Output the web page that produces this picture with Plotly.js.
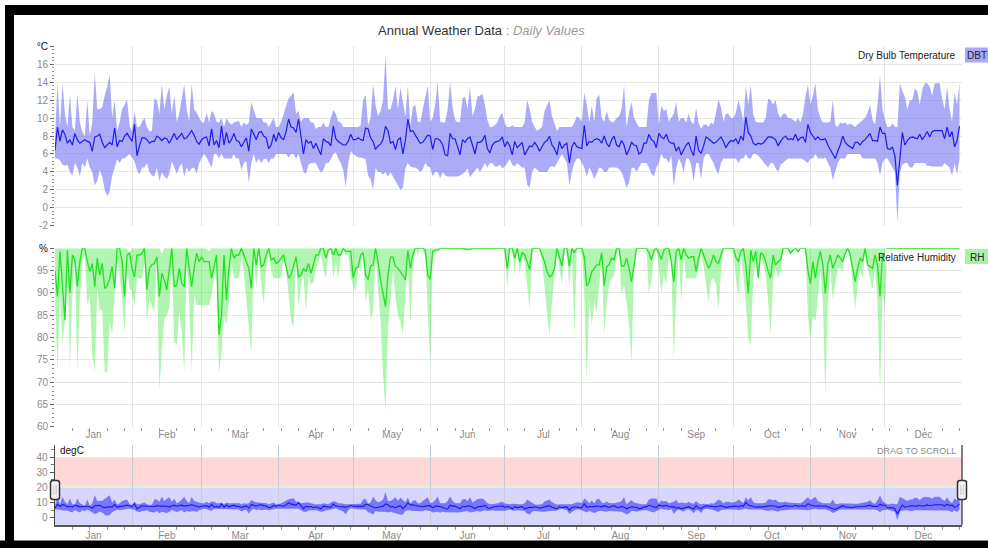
<!DOCTYPE html>
<html>
<head>
<meta charset="utf-8">
<script src="https://cdn.plot.ly/plotly-3.0.1.min.js"></script>
<style>
  html, body { margin: 0; padding: 0; background: #fff; }
  #chart { width: 988px; height: 548px; }
</style>
</head>
<body>
<div id="chart"></div>
<script>
// Daily dry bulb temperature (°C): minimum, mean, maximum
const dbtMean = [
  6.4, 9.0, 7.4, 8.7, 8.2, 7.2, 7.6, 7.0, 8.3, 7.6,
  7.2, 7.4, 7.6, 7.4, 7.3, 6.3, 7.9, 8.0, 8.2, 7.3,
  6.7, 7.0, 7.3, 7.0, 8.9, 6.8, 7.5, 7.4, 8.0, 8.3,
  7.8, 7.4, 9.3, 5.8, 6.9, 7.8, 7.8, 7.6, 7.2, 7.4,
  7.4, 8.0, 7.8, 7.5, 7.8, 7.7, 7.2, 7.8, 8.3, 7.6,
  7.9, 8.3, 7.7, 7.8, 8.2, 8.6, 8.1, 7.4, 7.1, 7.6,
  7.8, 7.9, 6.9, 8.8, 7.0, 7.5, 6.7, 9.1, 7.0, 8.4,
  7.2, 7.6, 8.3, 7.5, 7.4, 6.8, 7.3, 7.8, 6.3, 8.8,
  8.2, 7.6, 8.4, 8.5, 8.0, 7.8, 6.6, 7.0, 8.2, 7.4,
  8.4, 7.8, 7.6, 8.5, 9.9, 9.0, 8.9, 8.4, 9.9, 8.0,
  6.0, 7.6, 7.2, 7.4, 6.6, 7.2, 6.6, 5.9, 7.7, 7.4,
  7.3, 6.9, 9.1, 7.7, 7.4, 7.2, 7.0, 7.0, 7.4, 8.2,
  7.6, 7.6, 7.8, 7.6, 7.5, 8.9, 8.8, 7.8, 7.4, 6.5,
  6.9, 7.1, 7.6, 9.1, 8.6, 7.2, 7.4, 6.5, 7.6, 7.8,
  6.0, 7.5, 9.9, 8.5, 8.6, 8.1, 7.7, 7.2, 7.3, 7.7,
  8.1, 8.0, 6.5, 7.7, 7.7, 7.5, 7.0, 5.9, 5.8, 8.3,
  7.7, 7.7, 6.9, 5.9, 7.6, 7.3, 7.7, 7.9, 7.0, 6.0,
  7.3, 7.3, 7.5, 8.1, 6.6, 6.1, 7.0, 7.3, 7.4, 7.5,
  7.9, 6.8, 7.4, 6.9, 5.9, 7.4, 6.7, 7.0, 7.3, 5.9,
  6.4, 6.9, 6.8, 7.3, 6.9, 6.3, 6.8, 7.3, 7.5, 8.0,
  7.0, 6.6, 5.9, 7.4, 6.6, 7.0, 7.2, 5.0, 6.8, 7.3,
  6.8, 6.7, 6.6, 9.2, 6.9, 7.4, 7.3, 7.6, 7.7, 7.6,
  7.2, 8.0, 7.2, 6.8, 7.6, 8.0, 7.0, 6.8, 7.5, 7.0,
  5.9, 6.5, 7.3, 7.0, 6.9, 6.0, 6.2, 7.2, 7.2, 8.2,
  7.6, 7.4, 6.7, 8.3, 7.9, 7.7, 8.2, 7.4, 7.2, 7.2,
  6.3, 6.8, 5.9, 6.5, 7.0, 7.3, 6.4, 5.8, 8.0, 6.4,
  6.1, 6.9, 7.9, 7.7, 7.5, 7.2, 7.3, 7.6, 7.9, 7.4,
  6.7, 7.2, 7.5, 7.4, 7.7, 7.1, 8.0, 7.5, 10.1, 8.4,
  8.0, 7.2, 7.0, 7.2, 7.1, 7.2, 7.5, 7.9, 7.9, 7.8,
  7.6, 6.9, 7.4, 7.8, 8.0, 7.6, 7.7, 7.6, 8.2, 7.5,
  7.8, 7.9, 7.3, 9.3, 8.4, 8.0, 7.6, 7.9, 7.6, 7.6,
  7.7, 7.0, 6.5, 6.0, 5.5, 6.3, 7.0, 8.0, 7.3, 7.0,
  6.8, 6.6, 7.3, 7.3, 7.0, 7.4, 7.6, 7.9, 8.3, 7.5,
  7.5, 7.4, 9.0, 8.3, 8.3, 6.6, 6.5, 6.8, 5.8, 2.5,
  5.8, 8.4, 7.0, 7.5, 7.8, 7.9, 7.8, 7.7, 8.2, 7.6,
  8.0, 8.5, 7.9, 8.5, 8.6, 8.6, 8.6, 8.6, 7.7, 9.0,
  7.9, 8.5, 6.8, 7.5, 9.1
];
const dbtMax = [
  7.8, 13.9, 9.0, 13.9, 10.5, 9.0, 12.6, 9.0, 8.6, 12.7,
  9.5, 8.5, 8.0, 12.0, 8.0, 9.5, 15.0, 11.0, 11.0, 11.2,
  12.5, 13.5, 14.9, 10.0, 12.0, 8.6, 9.5, 11.0, 11.5, 12.1,
  9.2, 8.5, 10.8, 9.0, 9.0, 9.6, 10.0, 9.0, 8.5, 8.6,
  12.2, 12.0, 10.5, 13.8, 11.0, 12.5, 13.5, 10.5, 12.5, 9.6,
  10.5, 12.0, 13.8, 11.0, 9.6, 13.8, 11.0, 10.6, 10.0, 9.5,
  9.5, 10.6, 9.5, 10.8, 10.5, 9.6, 9.5, 10.0, 9.0, 10.0,
  9.5, 9.3, 9.5, 9.6, 9.7, 9.0, 9.5, 9.2, 9.5, 11.8,
  11.0, 10.0, 10.0, 10.0, 9.5, 9.5, 9.0, 9.5, 10.0, 9.0,
  9.0, 9.6, 10.5, 11.5, 12.2, 12.5, 12.9, 10.5, 10.8, 9.6,
  10.0, 10.0, 10.0, 9.5, 9.5, 8.8, 9.0, 9.0, 9.5, 9.0,
  9.0, 10.0, 10.9, 10.5, 9.6, 9.5, 9.0, 9.0, 9.0, 9.0,
  9.0, 9.0, 9.0, 9.2, 12.0, 12.6, 9.2, 10.0, 13.8, 11.5,
  10.2, 10.8, 12.0, 17.0, 11.0, 11.0, 12.0, 13.6, 11.0, 13.4,
  11.8, 10.2, 13.6, 9.2, 11.2, 11.5, 9.6, 9.5, 11.0, 12.2,
  13.6, 9.6, 10.0, 11.5, 14.0, 9.6, 9.5, 9.5, 11.0, 14.0,
  11.2, 9.8, 9.5, 9.6, 12.2, 12.4, 11.0, 13.5, 10.2, 11.0,
  12.4, 12.5, 12.7, 11.5, 9.8, 9.0, 9.0, 9.2, 9.5, 10.2,
  10.6, 9.4, 9.0, 9.0, 9.2, 9.0, 9.0, 9.0, 9.0, 9.5,
  12.0, 11.0, 9.6, 9.0, 8.6, 8.8, 9.0, 10.8, 11.5, 12.0,
  10.2, 9.5, 8.6, 9.0, 9.0, 9.0, 9.0, 9.0, 9.0, 9.5,
  10.2, 10.0, 9.6, 12.8, 11.5, 9.5, 11.4, 9.6, 12.2, 12.6,
  10.0, 9.6, 10.8, 9.8, 9.5, 9.6, 10.0, 10.2, 11.0, 13.7,
  9.0, 10.6, 11.8, 10.0, 9.5, 9.0, 9.0, 9.0, 9.0, 12.0,
  12.8, 12.8, 12.8, 9.2, 11.4, 10.8, 11.0, 9.6, 10.0, 10.5,
  11.8, 9.6, 10.0, 10.0, 9.5, 10.5, 9.6, 9.3, 11.1, 9.5,
  8.8, 9.3, 9.3, 9.0, 9.5, 9.3, 10.6, 12.1, 11.2, 9.6,
  10.5, 10.5, 10.0, 10.0, 10.6, 12.0, 11.0, 9.6, 13.6, 11.5,
  13.7, 10.4, 9.6, 9.5, 9.5, 9.5, 10.0, 12.2, 12.0, 11.5,
  12.0, 10.5, 10.0, 10.5, 10.5, 10.0, 10.0, 9.8, 9.6, 10.0,
  9.5, 10.5, 12.4, 13.7, 11.5, 12.5, 13.9, 11.0, 10.0, 9.5,
  9.5, 9.5, 9.6, 12.0, 9.2, 9.0, 9.5, 9.4, 9.5, 9.2,
  9.4, 9.2, 9.0, 9.3, 9.5, 9.8, 10.0, 10.6, 11.5, 9.8,
  9.3, 11.5, 14.8, 11.0, 9.8, 9.0, 9.0, 9.4, 9.0, 9.0,
  13.9, 13.0, 12.4, 11.0, 12.0, 12.0, 13.3, 13.0, 11.5, 13.2,
  13.9, 13.9, 13.5, 12.5, 13.9, 13.9, 13.9, 12.2, 11.0, 13.5,
  11.0, 9.6, 12.8, 11.5, 13.9
];
const dbtMin = [
  5.5, 5.5, 5.3, 4.8, 4.7, 4.8, 4.0, 3.6, 5.0, 4.5,
  3.5, 5.0, 4.5, 5.5, 4.5, 4.0, 2.5, 3.0, 4.2, 3.5,
  2.0, 1.3, 1.8, 3.6, 4.5, 5.4, 5.0, 5.5, 5.5, 5.8,
  6.0, 5.6, 5.2, 4.2, 3.7, 4.5, 4.5, 5.0, 4.0, 3.6,
  3.5, 4.5, 3.0, 4.0, 3.5, 3.2, 3.8, 5.2, 4.5, 3.8,
  4.5, 5.0, 3.5, 4.5, 4.0, 4.4, 4.5, 3.8, 5.0, 5.5,
  6.0, 5.6, 5.0, 4.5, 6.0, 6.0, 5.5, 6.0, 5.5, 5.5,
  5.5, 5.5, 6.0, 5.5, 5.5, 4.2, 5.0, 5.2, 2.8, 5.0,
  6.0, 5.0, 5.5, 5.0, 5.4, 5.5, 5.0, 5.5, 5.5, 6.0,
  6.0, 6.0, 6.0, 6.0, 5.6, 6.0, 6.0, 5.5, 6.0, 5.0,
  4.0, 3.8, 4.8, 5.0, 5.0, 5.0, 4.4, 3.9, 4.2, 5.0,
  5.0, 5.4, 6.0, 6.2, 5.5, 5.0, 4.2, 2.3, 5.0, 6.3,
  6.0, 5.8, 5.6, 5.6, 5.5, 5.4, 3.6, 3.2, 2.0, 4.4,
  4.0, 4.0, 3.7, 4.0, 3.5, 4.0, 3.5, 3.0, 2.6, 2.0,
  2.2, 4.4, 5.0, 4.6, 4.5, 4.5, 4.3, 4.0, 4.3, 5.0,
  4.6, 4.5, 3.5, 4.0, 4.0, 3.3, 4.0, 3.6, 3.5, 3.5,
  3.5, 3.5, 3.5, 3.6, 3.8, 4.0, 4.4, 3.4, 3.8, 4.2,
  4.5, 4.0, 4.4, 5.0, 4.5, 5.0, 5.0, 4.6, 4.6, 4.8,
  4.4, 4.6, 5.0, 5.4, 4.8, 4.6, 5.0, 4.8, 4.5, 4.5,
  2.6, 2.2, 4.0, 4.5, 4.3, 4.0, 4.0, 4.0, 4.0, 4.5,
  4.7, 4.5, 5.0, 5.5, 6.0, 5.5, 5.0, 2.5, 4.0, 5.0,
  5.5, 5.5, 5.0, 4.5, 3.5, 4.5, 4.0, 3.2, 3.8, 4.5,
  4.4, 4.0, 4.0, 4.5, 4.5, 4.5, 4.5, 4.3, 4.0, 3.2,
  2.2, 2.8, 4.4, 4.5, 4.0, 4.5, 5.0, 5.0, 5.0, 4.5,
  3.8, 3.5, 4.5, 5.0, 6.0, 5.5, 5.5, 5.0, 5.8, 2.4,
  4.4, 5.5, 5.0, 4.0, 5.5, 5.5, 4.8, 3.0, 5.0, 5.0,
  3.2, 5.5, 6.0, 6.0, 5.5, 5.0, 4.2, 3.8, 5.0, 5.5,
  5.5, 5.5, 5.5, 5.5, 5.5, 5.0, 5.5, 5.5, 6.0, 5.5,
  5.5, 6.0, 6.0, 5.8, 5.5, 5.2, 4.8, 4.5, 5.0, 5.0,
  4.4, 4.0, 4.8, 5.0, 5.2, 5.5, 5.5, 5.5, 5.5, 5.5,
  5.5, 5.4, 5.2, 5.0, 5.5, 5.5, 6.0, 5.5, 5.5, 5.5,
  5.6, 5.0, 4.5, 3.1, 4.0, 5.0, 5.5, 5.5, 5.5, 6.0,
  6.0, 6.0, 6.0, 6.0, 6.0, 5.5, 5.5, 5.5, 5.5, 5.5,
  5.5, 5.0, 3.6, 5.0, 5.5, 5.5, 5.0, 4.5, 4.0, -1.6,
  4.0, 4.8, 5.0, 5.0, 4.5, 4.5, 5.0, 5.0, 5.0, 5.0,
  5.0, 4.7, 4.7, 4.6, 4.6, 4.6, 4.6, 4.6, 5.0, 4.8,
  4.5, 3.6, 5.0, 3.7, 5.5
];

// Daily relative humidity (%): minimum, mean, maximum
const rhMean = [
  95, 89.2, 99.3, 92, 83.9, 99.6, 90.0, 98.5, 97.4, 91.4,
  97.0, 100, 100, 97.0, 94.8, 96.6, 91.4, 97.8, 94.0, 96.6,
  91.0, 91.6, 93.2, 95.9, 91.0, 100, 100, 97.0, 89.2, 98.5,
  98.9, 95.5, 93.6, 98.5, 98.5, 98.9, 100, 90.7, 95.5, 96.3,
  96.6, 98.1, 89.2, 94.4, 92.9, 90.7, 94.8, 100, 91.4, 91.8,
  95.5, 92.1, 91.4, 100, 95.5, 91.4, 95.5, 98.9, 97.0, 98.1,
  97.0, 97.0, 97.0, 93.3, 96.3, 98.5, 80.6, 85.0, 98.5, 88.4,
  95.5, 100, 97.8, 98.5, 98.5, 100, 98.5, 97.0, 95.5, 91.0,
  100, 96.3, 100, 95.9, 96.3, 98.5, 100, 97.4, 97.8, 96.6,
  97.0, 97.8, 98.5, 95.9, 93.3, 94.0, 96.3, 98.1, 93.6, 94.0,
  95.5, 94.8, 96.6, 94.4, 96.3, 98.5, 98.5, 100, 100, 97.8,
  99.6, 100, 98.5, 100, 98.5, 98.5, 100, 99.3, 99.3, 99.3,
  93.3, 95.5, 95.9, 98.5, 99.0, 94.0, 93.0, 96.0, 96.3, 100,
  97.0, 92.8, 90.0, 86.9, 94.0, 98.0, 98.0, 96.0, 95.5, 94.8,
  94.0, 92.9, 99.5, 95.5, 98.5, 100, 100, 100, 100, 99.6,
  94.0, 93.0, 99.3, 99.6, 99.6, 100, 100, 100, 100, 100,
  100, 100, 100, 100, 100, 99.8, 99.8, 99.8, 100, 100,
  100, 100, 100, 100, 100, 100, 100, 100, 100, 100,
  100, 100, 95.5, 100, 100, 97.8, 100, 97.0, 99.0, 98.5,
  97.0, 95.2, 100, 100, 100, 100, 98.5, 97.0, 94.8, 93.6,
  94.0, 95.5, 100, 97.8, 96.0, 100, 100, 96.0, 100, 99.0,
  100, 100, 100, 98.0, 91.5, 92.5, 94.8, 95.5, 96.3, 96.3,
  99.0, 91.6, 95.9, 96.3, 97.8, 97.4, 100, 100, 96.0, 96.0,
  97.8, 95.5, 92.5, 96.0, 100, 100, 100, 100, 100, 99.0,
  97.4, 99.5, 100, 99.0, 97.5, 99.6, 100, 100, 97.0, 92.5,
  99.3, 100, 97.4, 100, 98.5, 97.8, 98.1, 98.1, 94.8, 97.8,
  100, 98.5, 97.0, 95.5, 96.6, 98.5, 97.0, 96.6, 98.5, 100,
  100, 100, 100, 100, 98.0, 97.0, 99.3, 100, 96.3, 89.9,
  99.6, 97.0, 99.3, 93.3, 99.0, 98.5, 97.0, 94.8, 93.3, 98.5,
  96.3, 97.0, 97.4, 100, 100, 100, 98.9, 99.6, 100, 99.3,
  100, 100, 100, 95.0, 92.0, 97.0, 93.3, 97.0, 99.3, 96.3,
  89.9, 96.3, 98.5, 95.5, 97.0, 98.5, 97.8, 97.0, 98.9, 100,
  98.5, 95.5, 92.5, 95.5, 97.8, 97.0, 100, 96.3, 95.9, 95.5,
  98.5, 96.3, 89.2, 98.5, 99.0, 100, 100, 100, 100, 100,
  100, 100, 100, 100, 100, 100, 100, 100, 100, 100,
  100, 100, 100, 100, 100, 100, 100, 100, 100, 100,
  100, 100, 100, 100, 100
];
const rhMin = [
  90.0, 72.3, 89.5, 79.0, 83.9, 98.5, 73.0, 90.3, 97.0, 72.3,
  88.5, 97.0, 98.5, 87.3, 89.5, 76.0, 72.3, 91.0, 86.2, 86.2,
  72.3, 72.3, 83.6, 80.6, 89.5, 98.5, 94.0, 88.8, 80.6, 95.5,
  91.0, 90.3, 86.9, 93.3, 93.3, 93.3, 97.0, 83.6, 88.5, 86.9,
  85.8, 97.0, 67.9, 77.6, 84.3, 85.0, 86.5, 97.0, 79.0, 78.3,
  85.8, 81.3, 72.3, 97.0, 88.5, 72.3, 89.5, 87.3, 87.3, 87.3,
  87.3, 87.3, 87.3, 89.5, 93.3, 97.0, 71.6, 76.8, 85.0, 82.8,
  88.5, 97.0, 93.3, 93.3, 93.3, 97.8, 94.8, 88.5, 82.8, 76.4,
  98.5, 91.0, 98.5, 91.8, 87.3, 95.5, 98.5, 94.8, 93.3, 93.3,
  93.3, 93.3, 97.8, 95.5, 89.5, 84.0, 82.1, 97.8, 87.0, 91.8,
  94.0, 85.8, 94.0, 91.8, 92.5, 95.5, 97.0, 98.5, 95.5, 93.3,
  98.5, 100, 93.3, 97.0, 93.3, 98.5, 100, 98.5, 98.5, 93.3,
  91.8, 90.3, 95.5, 95.5, 98.5, 88.0, 91.0, 84.0, 86.0, 98.5,
  91.0, 84.0, 72.0, 63.4, 82.0, 88.0, 95.0, 89.0, 85.0, 83.6,
  80.6, 90.0, 97.0, 82.8, 95.5, 100, 98.5, 100, 99.6, 98.5,
  85.0, 73.8, 98.5, 99.3, 99.6, 100, 100, 100, 100, 100,
  100, 100, 100, 100, 100, 99.5, 99.5, 99.5, 100, 100,
  100, 100, 100, 100, 100, 100, 100, 100, 100, 100,
  100, 100, 91.0, 100, 100, 94.0, 100, 94.0, 98.0, 97.0,
  91.8, 86.2, 98.5, 100, 100, 100, 97.0, 91.0, 85.0, 80.2,
  88.0, 93.3, 100, 95.5, 91.8, 100, 100, 91.0, 100, 80.6,
  100, 100, 100, 90.0, 70.1, 88.5, 82.8, 88.0, 85.8, 91.8,
  98.0, 80.6, 88.0, 91.8, 93.3, 94.0, 98.5, 100, 89.5, 91.8,
  88.0, 83.0, 74.2, 95.0, 100, 100, 100, 100, 100, 89.5,
  93.0, 98.5, 100, 95.5, 90.0, 94.0, 92.0, 98.5, 97.0, 75.0,
  89.5, 98.5, 88.0, 99.0, 93.3, 93.3, 93.3, 93.3, 93.3, 95.5,
  99.0, 96.0, 91.5, 88.0, 92.9, 93.3, 92.0, 86.2, 94.5, 100,
  100, 100, 100, 100, 93.3, 88.8, 98.5, 94.0, 88.0, 79.8,
  78.3, 93.3, 97.8, 93.3, 99.0, 96.3, 94.0, 88.0, 80.6, 93.3,
  95.5, 93.3, 95.0, 100, 100, 100, 98.5, 100, 100, 98.9,
  100, 100, 100, 85.0, 79.8, 85.0, 83.6, 89.0, 95.0, 88.0,
  67.1, 88.0, 95.5, 88.5, 92.0, 95.5, 95.5, 94.8, 98.5, 100,
  97.8, 92.0, 86.2, 91.8, 95.5, 93.3, 99.0, 95.5, 93.3, 91.0,
  95.5, 88.0, 68.2, 90.0, 86.5, 100, 100, 100, 100, 100,
  100, 100, 100, 100, 100, 100, 100, 100, 100, 100,
  100, 100, 100, 100, 100, 100, 100, 100, 100, 100,
  100, 100, 100, 100, 100
];
const rhMax = [
  100, 100, 100, 100, 100, 100, 100, 100, 100, 100,
  100, 100, 100, 100, 100, 100, 100, 100, 100, 100,
  100, 100, 100, 100, 100, 100, 100, 100, 100, 100,
  99.0, 100, 100, 100, 100, 100, 100, 100, 100, 100,
  100, 100, 100, 98.8, 100, 100, 100, 100, 100, 100,
  100, 100, 100, 100, 100, 100, 100, 100, 100, 100,
  100, 100, 99.3, 100, 100, 100, 100, 100, 100, 100,
  100, 100, 100, 100, 100, 100, 100, 100, 100, 100,
  100, 100, 100, 100, 100, 100, 100, 100, 100, 100,
  100, 100, 100, 100, 100, 100, 100, 100, 100, 100,
  100, 100, 100, 100, 100, 100, 100, 100, 100, 100,
  100, 100, 100, 100, 100, 100, 100, 100, 100, 100,
  100, 100, 100, 100, 100, 100, 100, 100, 100, 100,
  100, 100, 100, 100, 100, 100, 100, 100, 100, 100,
  100, 100, 100, 100, 100, 100, 100, 100, 100, 100,
  100, 100, 100, 100, 100, 100, 100, 100, 100, 100,
  100, 100, 100, 100, 100, 100, 100, 100, 100, 100,
  100, 100, 100, 100, 100, 100, 100, 100, 100, 100,
  100, 100, 100, 100, 100, 100, 100, 100, 100, 100,
  100, 100, 100, 100, 100, 100, 100, 100, 100, 100,
  100, 100, 100, 100, 100, 100, 100, 100, 100, 100,
  100, 100, 100, 100, 100, 100, 100, 100, 100, 100,
  100, 100, 100, 100, 100, 100, 100, 100, 100, 100,
  100, 100, 100, 100, 100, 100, 100, 100, 100, 100,
  100, 100, 100, 100, 100, 100, 100, 100, 100, 100,
  100, 100, 100, 100, 100, 100, 100, 100, 100, 100,
  100, 100, 100, 100, 100, 100, 100, 100, 100, 100,
  100, 100, 100, 100, 100, 100, 100, 100, 100, 100,
  100, 100, 100, 100, 100, 100, 100, 100, 100, 100,
  100, 100, 100, 100, 100, 100, 100, 100, 100, 100,
  100, 100, 100, 100, 100, 100, 100, 100, 100, 100,
  100, 100, 100, 100, 100, 100, 100, 100, 100, 100,
  100, 100, 100, 100, 100, 100, 100, 100, 100, 100,
  100, 100, 100, 100, 100, 100, 100, 100, 100, 100,
  100, 100, 100, 100, 100, 100, 100, 100, 100, 100,
  100, 100, 100, 100, 100, 100, 100, 100, 100, 100,
  100, 100, 100, 100, 100
];

// Axis tick values and labels
const tempTicks = [-2, 0, 2, 4, 6, 8, 10, 12, 14, 16, 18];
const tempTickText = ['-2', '0', '2', '4', '6', '8', '10', '12', '14', '16', '<span style="color:#111">°C</span>'];
const rhTicks = [60, 65, 70, 75, 80, 85, 90, 95, 100];
const rhTickText = ['60', '65', '70', '75', '80', '85', '90', '95', '<span style="color:#111">%</span>'];
const navTicks = [0, 10, 20, 30, 40];

// One date per day of the year
const days = [];
const t0 = Date.UTC(2019, 0, 1);
for (let i = 0; i < dbtMean.length; i++) {
  days.push(new Date(t0 + i * 864e5).toISOString().slice(0, 10));
}
const xRange = ['2019-01-01', '2020-01-01'];

// Canvas pixel -> paper fraction helpers (margins are zero)
const W = 988, H = 548;
const px = x => x / W;
const py = y => 1 - y / H;

const FONT = 'Arial, "Liberation Sans", sans-serif';
const tickFont = { family: FONT, size: 10, color: '#8a8a8a' };

function band(xa, ya, y, fillcolor, lineColor, lineWidth, name) {
  return [
    { x: days, y: y[0], xaxis: xa, yaxis: ya, type: 'scatter', mode: 'lines',
      line: { width: 0 }, hoverinfo: 'skip', showlegend: false, name: name + ' min' },
    { x: days, y: y[2], xaxis: xa, yaxis: ya, type: 'scatter', mode: 'lines',
      fill: 'tonexty', fillcolor: fillcolor, line: { width: 0 },
      hoverinfo: 'skip', showlegend: false, name: name + ' max' },
    { x: days, y: y[1], xaxis: xa, yaxis: ya, type: 'scatter', mode: 'lines',
      line: { color: lineColor, width: lineWidth }, showlegend: false, name: name }
  ];
}

const traces = [
  ...band('x', 'y', [dbtMin, dbtMean, dbtMax], 'rgba(115,115,242,0.6)', '#1c1cf0', 1.2, 'DBT'),
  ...band('x2', 'y2', [rhMin, rhMean, rhMax], 'rgba(80,232,80,0.45)', '#22e022', 1.3, 'RH'),
  ...band('x3', 'y3', [dbtMin, dbtMean, dbtMax], 'rgba(60,60,250,0.62)', '#1818f0', 1.1, 'DBT nav')
];

const xDom = [px(55), px(962)];
function monthAxis(anchor, labels, gridcolor) {
  return {
    domain: xDom, anchor: anchor, type: 'date', range: xRange,
    tick0: '2019-01-01', dtick: 'M1', ticklabelmode: 'period', tickformat: '%b',
    showticklabels: labels, ticks: '', tickfont: tickFont,
    showgrid: true, gridcolor: gridcolor, gridwidth: 1,
    zeroline: false, showline: false, fixedrange: true,
    minor: labels ? { tick0: '2019-01-08', dtick: 7 * 864e5, ticks: 'outside',
                      ticklen: 3, tickcolor: '#999', showgrid: false } : undefined
  };
}

const layout = {
  width: W, height: H,
  margin: { l: 0, r: 0, t: 0, b: 0, pad: 0 },
  paper_bgcolor: '#fff', plot_bgcolor: 'rgba(0,0,0,0)',
  showlegend: false,
  font: { family: FONT },
  xaxis: monthAxis('y', false, '#e3e3e3'),
  xaxis2: monthAxis('y2', true, '#e3e3e3'),
  xaxis3: Object.assign(monthAxis('y3', true, '#c9c9d6'), {
    showline: true, linecolor: '#555', linewidth: 1.5
  }),
  yaxis: {
    domain: [py(225.7), py(46.4)], anchor: 'x', range: [-2, 18],
    tickmode: 'array', tickvals: tempTicks, ticktext: tempTickText,
    tickfont: tickFont, ticks: 'outside', ticklen: 4, tickcolor: '#666',
    showgrid: true, gridcolor: '#e6e6e6', zeroline: false, showline: false,
    minor: { dtick: 0.4, ticks: 'outside', ticklen: 2, tickcolor: '#8a8a8a', showgrid: false },
    fixedrange: true
  },
  yaxis2: {
    domain: [py(426.7), py(248.3)], anchor: 'x2', range: [60, 100],
    tickmode: 'array', tickvals: rhTicks, ticktext: rhTickText,
    tickfont: tickFont, ticks: 'outside', ticklen: 4, tickcolor: '#666',
    showgrid: true, gridcolor: '#e6e6e6', zeroline: false, showline: false,
    minor: { dtick: 1, ticks: 'outside', ticklen: 2, tickcolor: '#8a8a8a', showgrid: false },
    fixedrange: true
  },
  yaxis3: {
    domain: [py(525), py(445)], anchor: 'x3', range: [-4.8, 48.1],
    tickmode: 'array', tickvals: navTicks,
    tickfont: tickFont, ticks: 'outside', ticklen: 4, tickcolor: '#555',
    showgrid: false, zeroline: false, showline: true, linecolor: '#444', linewidth: 1.5,
    minor: { dtick: 5, ticks: 'outside', ticklen: 3, tickcolor: '#777', showgrid: false },
    fixedrange: true
  },
  shapes: [],
  annotations: []
};

// Comfort bands behind the navigator series
layout.shapes.push(
  { type: 'rect', xref: 'x3', yref: 'y3', x0: xRange[0], x1: xRange[1], y0: 21, y1: 40,
    fillcolor: '#ffd7d7', line: { width: 0 }, layer: 'below' },
  { type: 'rect', xref: 'x3', yref: 'y3', x0: xRange[0], x1: xRange[1], y0: 20, y1: 21,
    fillcolor: '#dcf3dc', line: { width: 0 }, layer: 'below' },
  { type: 'rect', xref: 'x3', yref: 'y3', x0: xRange[0], x1: xRange[1], y0: -4.8, y1: 20,
    fillcolor: '#d7d7fd', line: { width: 0 }, layer: 'below' }
);

// Right edge of the navigator
layout.shapes.push({ type: 'line', xref: 'paper', yref: 'paper',
  x0: px(962), x1: px(962), y0: py(445), y1: py(525), line: { color: '#555', width: 1.5 } });

// Navigator drag handles
function handle(cx) {
  const l = cx - 4.5, r = cx + 4.5, t = 480.5, b = 499.5, k = 2.5;
  const P = (x, y) => `${px(x).toFixed(5)},${py(y).toFixed(5)}`;
  return {
    type: 'path', xref: 'paper', yref: 'paper',
    path: `M${P(l, t + k)} L${P(l, b - k)} Q${P(l, b)} ${P(l + k, b)} L${P(r - k, b)} ` +
          `Q${P(r, b)} ${P(r, b - k)} L${P(r, t + k)} Q${P(r, t)} ${P(r - k, t)} ` +
          `L${P(l + k, t)} Q${P(l, t)} ${P(l, t + k)} Z`,
    fillcolor: '#f4f4f4', line: { color: '#333', width: 1.5 }
  };
}
layout.shapes.push(handle(55), handle(962));
[55, 962].forEach(cx => {
  [cx - 1.2, cx + 1.2].forEach(x => layout.shapes.push({
    type: 'line', xref: 'paper', yref: 'paper', x0: px(x), x1: px(x),
    y0: py(485), y1: py(495), line: { color: '#c4c4c4', width: 1 } }));
});

// Legend keys
layout.shapes.push(
  { type: 'rect', xref: 'paper', yref: 'paper', x0: px(965), x1: px(990),
    y0: py(62.5), y1: py(47.5), fillcolor: '#a9a9f6', line: { width: 0 } },
  { type: 'rect', xref: 'paper', yref: 'paper', x0: px(885), x1: px(961),
    y0: py(264), y1: py(249), fillcolor: '#ffffff', line: { width: 0 } },
  { type: 'rect', xref: 'paper', yref: 'paper', x0: px(965), x1: px(990),
    y0: py(264), y1: py(249), fillcolor: '#aaf0aa', line: { width: 0 } }
);

// Frame around the figure
layout.shapes.push(
  { type: 'rect', xref: 'paper', yref: 'paper', x0: px(5), x1: px(990), y0: py(15), y1: py(5),
    fillcolor: '#000', line: { width: 0 } },
  { type: 'rect', xref: 'paper', yref: 'paper', x0: px(5), x1: px(14), y0: py(550), y1: py(5),
    fillcolor: '#000', line: { width: 0 } },
  { type: 'rect', xref: 'paper', yref: 'paper', x0: px(0), x1: px(990), y0: py(550), y1: py(540.5),
    fillcolor: '#000', line: { width: 0 } }
);

const ann = (text, x, y, xanchor, font) => ({
  text, xref: 'paper', yref: 'paper', x: px(x), y: py(y),
  xanchor, yanchor: 'middle', showarrow: false, font
});
layout.annotations.push(
  ann('Annual Weather Data <span style="color:#9a9a9a">: <i>Daily Values</i></span>',
      481, 31, 'center', { family: FONT, size: 13, color: '#333' }),
  ann('Dry Bulb Temperature', 958, 55.5, 'right', { family: FONT, size: 10, color: '#222' }),
  ann('DBT', 977, 55.5, 'center', { family: FONT, size: 10, color: '#222' }),
  ann('Relative Humidity', 958, 257, 'right', { family: FONT, size: 10, color: '#222' }),
  ann('RH', 977, 257, 'center', { family: FONT, size: 10, color: '#222' }),
  ann('degC', 58, 450, 'left', { family: FONT, size: 10, color: '#111' }),
  ann('DRAG TO SCROLL', 958, 451, 'right', { family: FONT, size: 9, color: '#8a8a8a' })
);

Plotly.newPlot('chart', traces, layout, { staticPlot: true, displayModeBar: false });
</script>
</body>
</html>
